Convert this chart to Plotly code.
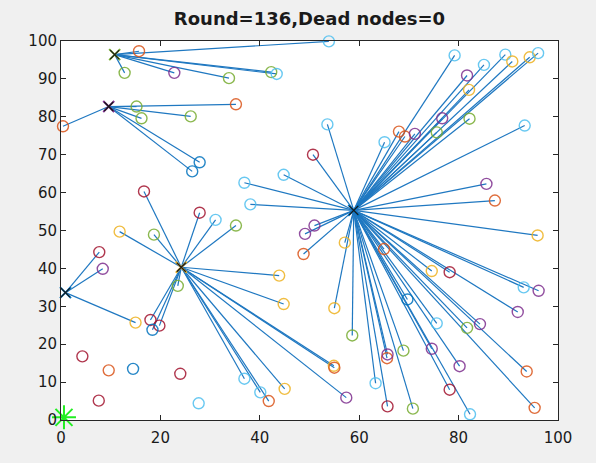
import plotly.graph_objects as go

# Cluster heads (x, y) and the sink
head_x = [10.8, 9.6, 24.2, 58.9, 0.9]
head_y = [96.4, 82.7, 40.3, 55.3, 33.6]
head_color = ["g", "p", "y", "b", "b"]
sink_x = [0.6]
sink_y = [0.7]

# Sensor nodes: position, colour key, cluster head index (-1 = no link drawn)
node_x = [
    15.7, 12.8, 22.8, 33.8, 42.3, 43.4, 53.9,
    15.2, 16.2, 35.2, 26.1, 27.9, 26.4, 0.4,
    16.7, 27.9, 31.1, 35.2, 11.8, 18.7, 23.5, 43.9, 44.8, 18.0, 19.8, 18.4,
    36.9, 40.1, 41.8, 45.0, 54.9, 55.0, 57.4,
    53.6, 50.7, 65.1, 68.0, 69.2, 71.2, 75.6, 76.7, 82.2, 82.1, 81.7, 79.2,
    85.1, 89.4, 90.8, 94.3, 96.0, 93.3, 85.6, 87.3, 95.9, 78.2, 74.6, 93.1,
    96.1, 91.9, 84.3, 81.7, 75.6, 74.6, 80.2, 78.2, 82.3, 93.7, 95.3, 69.7,
    68.9, 65.6, 65.7, 65.7, 70.8, 63.3, 58.6, 55.0, 57.1, 65.0, 51.0, 49.1,
    48.8, 44.8, 36.9, 38.1,
    7.7, 8.4, 15.0,
    4.3, 9.6, 14.5, 24.0, 7.6, 27.7,
]
node_y = [
    97.3, 91.6, 91.6, 90.2, 91.8, 91.3, 99.9,
    82.7, 79.6, 83.3, 80.1, 68.0, 65.6, 77.5,
    60.3, 54.7, 52.8, 51.3, 49.7, 48.9, 35.4, 38.1, 30.6, 26.4, 24.9, 23.8,
    10.9, 7.3, 5.0, 8.2, 14.3, 13.8, 5.9,
    78.0, 70.0, 73.3, 76.1, 74.8, 75.5, 75.9, 79.6, 79.5, 87.1, 90.9, 96.2,
    93.7, 96.4, 94.6, 95.7, 96.8, 77.7, 62.3, 57.9, 48.7, 39.0, 39.3, 35.0,
    34.1, 28.5, 25.3, 24.3, 25.5, 18.8, 14.2, 8.0, 1.5, 12.8, 3.2, 31.8,
    18.3, 16.3, 17.3, 3.6, 3.0, 9.7, 22.3, 29.5, 46.8, 45.1, 51.3, 49.1,
    43.8, 64.7, 62.6, 56.9,
    44.3, 39.9, 25.7,
    16.8, 13.1, 13.5, 12.2, 5.1, 4.4,
]
node_color = [
    "o", "g", "p", "g", "g", "c", "c",
    "g", "g", "o", "g", "b", "b", "o",
    "r", "r", "c", "g", "y", "g", "g", "y", "y", "r", "r", "b",
    "c", "c", "o", "y", "y", "o", "p",
    "c", "r", "c", "o", "o", "p", "g", "p", "g", "y", "p", "c",
    "c", "c", "y", "y", "c", "c", "p", "o", "y", "r", "y", "c",
    "p", "p", "p", "g", "c", "p", "p", "r", "c", "o", "o", "b",
    "g", "o", "p", "r", "g", "c", "g", "y", "y", "o", "p", "p",
    "o", "c", "c", "c",
    "r", "p", "y",
    "r", "o", "b", "r", "r", "c",
]
node_head = (
    [0] * 7
    + [1] * 7
    + [2] * 19
    + [3] * 52
    + [4] * 3
    + [-1] * 6
)

palette = {
    "b": "#0072BD", "o": "#D95319", "y": "#EDB120", "p": "#7E2F8E",
    "g": "#77AC30", "c": "#4DBEEE", "r": "#A2142F",
}

fig = go.Figure()

# Links from every member node to its cluster head
lx, ly = [], []
for x, y, h in zip(node_x, node_y, node_head):
    if h < 0:
        continue
    lx += [head_x[h], x, None]
    ly += [head_y[h], y, None]
fig.add_trace(go.Scatter(
    x=lx, y=ly, mode="lines",
    line=dict(color="#1f78c1", width=1.2),
    hoverinfo="skip", showlegend=False,
))

# Nodes as open circles
fig.add_trace(go.Scatter(
    x=node_x, y=node_y, mode="markers",
    marker=dict(symbol="circle-open", size=11,
                color=[palette[c] for c in node_color],
                line=dict(width=1.4), opacity=0.85),
    cliponaxis=False, showlegend=False,
))

# Cluster heads
fig.add_trace(go.Scatter(
    x=head_x, y=head_y, mode="markers",
    marker=dict(symbol="x-thin-open", size=11,
                color=[palette[c] for c in head_color],
                line=dict(width=2)),
    cliponaxis=False, showlegend=False,
))
fig.add_trace(go.Scatter(
    x=head_x, y=head_y, mode="markers",
    marker=dict(symbol="x-thin-open", size=9, color="#1a1a1a",
                line=dict(width=1.3)),
    cliponaxis=False, showlegend=False,
))

# Sink
fig.add_trace(go.Scatter(
    x=sink_x, y=sink_y, mode="markers",
    marker=dict(symbol="asterisk-open", size=20, color="#22ee22",
                line=dict(width=2, color="#22ee22")),
    cliponaxis=False, showlegend=False,
))

axis_common = dict(
    range=[0, 100], showline=True, mirror="ticks", linecolor="#262626",
    linewidth=1, ticks="inside", ticklen=5, tickcolor="#262626",
    showgrid=False, zeroline=False,
    tickfont=dict(family="DejaVu Sans", size=15, color="#1a1a1a"),
)

fig.update_layout(
    width=596, height=463,
    margin=dict(l=61, r=38, t=41, b=43),
    paper_bgcolor="#f0f0f0", plot_bgcolor="#ffffff",
    title=dict(
        text="<b>Round=136,Dead nodes=0</b>",
        font=dict(family="DejaVu Sans", size=18, color="#1a1a1a"),
        x=0.5, xref="paper", xanchor="center",
        y=1 - 19 / 463, yref="container", yanchor="middle",
    ),
    xaxis=dict(axis_common, dtick=20, tick0=0, ticklabelstandoff=4),
    yaxis=dict(axis_common, dtick=10, tick0=0),
)

fig.write_html("out.html")
